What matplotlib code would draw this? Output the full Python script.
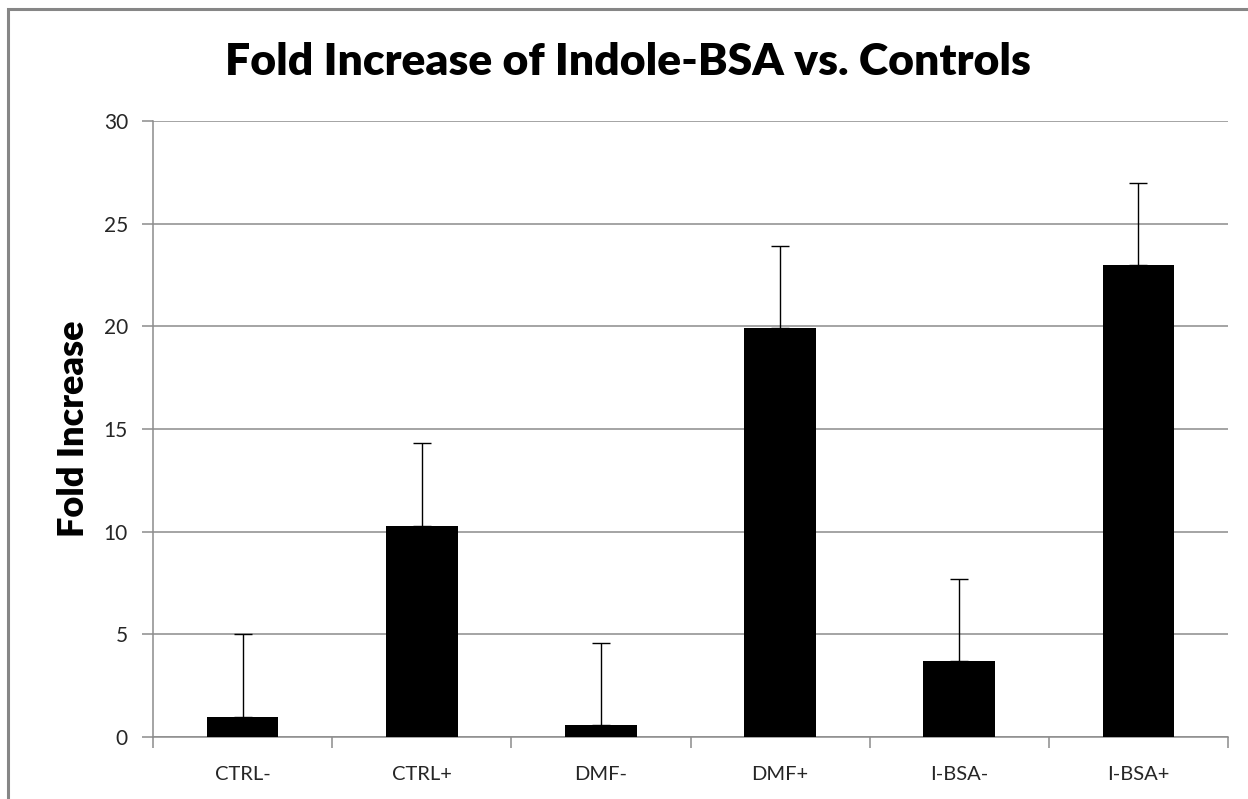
import numpy as np
import matplotlib
matplotlib.use('Agg')
import matplotlib.pyplot as plt
from matplotlib.patches import Rectangle

categories = ['CTRL-', 'CTRL+', 'DMF-', 'DMF+', 'I-BSA-', 'I-BSA+']
fold_increase = [0.95, 10.3, 0.6, 19.9, 3.7, 23.0]
errors = [4.05, 4.0, 4.0, 4.0, 4.0, 4.0]

plt.rcParams['font.family'] = ['Lato', 'DejaVu Sans']

fig = plt.figure(figsize=(12.48, 7.99), dpi=100)
W, H = 1248, 799
# axes placed in pixel coordinates of the reference
left, right, top, bottom = 153, 1228, 121, 737
ax = fig.add_axes([left / W, 1 - bottom / H, (right - left) / W, (bottom - top) / H])

# outer chart frame (cut at right and bottom like the reference)
fig.patches.append(Rectangle((8 / W, -0.1), 1.2, 1 - 9 / H + 0.1, transform=fig.transFigure,
                             fill=False, edgecolor='#868686', linewidth=2.2))

x = np.arange(len(categories))
ax.bar(x, fold_increase, width=0.4, color='black', zorder=3)
ax.errorbar(x, fold_increase, yerr=[np.zeros(len(errors)), errors], fmt='none',
            ecolor='black', elinewidth=1, capsize=6.5, capthick=1, zorder=4)

ax.set_xlim(-0.5, len(categories) - 0.5)
ax.set_ylim(0, 30)
ax.set_yticks(np.arange(0, 31, 5))
ax.yaxis.grid(True, color='#8c8c8c', linewidth=1.1, zorder=0)
ax.set_xticks(x)
ax.set_xticklabels(categories, fontsize=14.5)
ax.set_xticks(np.arange(-0.5, len(categories)), minor=True)
ax.tick_params(axis='x', which='major', length=0, pad=21)
ax.tick_params(axis='x', which='minor', length=8, color='#8c8c8c', width=1.1)
ax.tick_params(axis='y', length=8, color='#8c8c8c', width=1.1, labelsize=15, pad=10)
for lab in ax.get_xticklabels() + ax.get_yticklabels():
    lab.set_color('#262626')

for s in ['top', 'right']:
    ax.spines[s].set_visible(False)
for s in ['left', 'bottom']:
    ax.spines[s].set_color('#8c8c8c')
    ax.spines[s].set_linewidth(1.1)

ax.set_ylabel('Fold Increase', fontsize=26, fontweight='heavy', labelpad=10)
fig.text(628 / W, 1 - 62 / H, 'Fold Increase of Indole-BSA vs. Controls', fontsize=32,
         fontweight='heavy', ha='center', va='center')

fig.savefig('out.png', dpi=100)
